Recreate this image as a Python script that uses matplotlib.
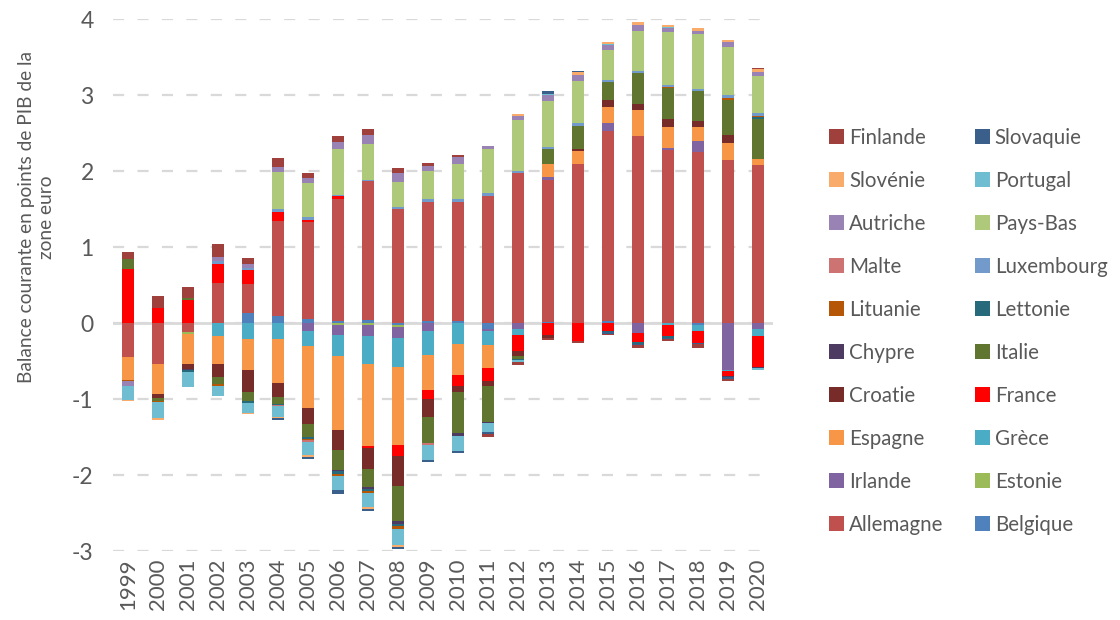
import numpy as np
import matplotlib
matplotlib.use("Agg")
import matplotlib.pyplot as plt

# --- data: contributions by country, 1999-2020 ---
years = [str(y) for y in range(1999, 2021)]

belgique   = [0, 0, 0, 0, 0.13, 0.10, 0.06, 0.03, 0.04, -0.02, 0.03, 0.03, -0.07, 0, 0.02, 0, 0.03, 0, 0, -0.02, 0, 0]
allemagne  = [-0.45, -0.54, -0.12, 0.53, 0.38, 1.25, 1.27, 1.60, 1.83, 1.50, 1.57, 1.57, 1.68, 1.98, 1.86, 2.10, 2.50, 2.46, 2.28, 2.25, 2.15, 2.08]
estonie    = [0, 0, -0.02, 0, 0, 0, 0, -0.03, -0.03, -0.03, 0, 0, 0, 0, 0, 0, 0, 0, 0, 0, 0, 0]
irlande    = [0, 0, 0, 0, 0, 0, -0.10, -0.12, -0.14, -0.15, -0.10, 0, -0.03, -0.08, 0.04, 0, 0.11, -0.13, 0.02, 0.15, -0.61, -0.08]
grece      = [0, 0, 0, -0.17, -0.21, -0.21, -0.20, -0.28, -0.37, -0.37, -0.32, -0.27, -0.19, -0.08, 0, 0, 0, 0, -0.02, -0.08, -0.02, -0.09]
espagne    = [-0.30, -0.39, -0.40, -0.37, -0.41, -0.58, -0.81, -0.98, -1.08, -1.03, -0.46, -0.41, -0.30, 0, 0.18, 0.17, 0.20, 0.34, 0.28, 0.18, 0.22, 0.08]
france     = [0.71, 0.20, 0.30, 0.25, 0.19, 0.11, 0.03, 0.04, -0.02, -0.15, -0.12, -0.14, -0.17, -0.21, -0.15, -0.23, -0.10, -0.12, -0.15, -0.16, -0.06, -0.40]
croatie    = [0, -0.05, -0.06, -0.17, -0.28, -0.18, -0.22, -0.26, -0.28, -0.39, -0.24, -0.09, -0.07, -0.06, -0.04, 0.02, 0.10, 0.08, 0.11, 0.08, 0.10, 0]
italie     = [0.14, -0.04, 0.03, -0.09, -0.13, -0.09, -0.17, -0.26, -0.24, -0.46, -0.33, -0.54, -0.47, -0.04, 0.19, 0.31, 0.24, 0.41, 0.40, 0.39, 0.47, 0.53]
chypre     = [0, 0, -0.02, 0, 0, 0, 0, -0.02, -0.02, -0.04, 0, -0.03, -0.01, 0, 0, 0, 0, 0, 0, 0, -0.02, -0.02]
lettonie   = [0, 0, -0.02, 0, -0.02, -0.02, -0.03, -0.03, -0.03, -0.03, 0, 0, 0, -0.02, 0, 0, -0.02, -0.02, -0.02, 0, 0, 0.02]
lituanie   = [-0.01, -0.02, 0, -0.02, 0, 0, -0.01, -0.03, -0.03, -0.04, -0.01, 0, 0, 0, 0, 0, 0, 0, 0.02, 0, 0.02, 0.02]
luxembourg = [0, 0, 0, 0.04, 0.03, 0.04, 0.04, 0.02, 0.02, 0.03, 0.03, 0.03, 0.03, 0.02, 0.03, 0.03, 0.02, 0.03, 0.02, 0.03, 0.04, 0.03]
malte      = [0, 0, 0, 0, 0, -0.01, -0.02, 0, 0, 0, -0.02, 0, 0, 0, 0, 0, 0, 0, 0, 0, 0, 0]
pays_bas   = [0, 0, 0, 0, 0, 0.49, 0.45, 0.60, 0.47, 0.33, 0.37, 0.47, 0.58, 0.68, 0.61, 0.56, 0.40, 0.52, 0.70, 0.72, 0.63, 0.49]
autriche   = [-0.07, 0, 0, 0.05, 0.05, 0.07, 0.06, 0.09, 0.11, 0.12, 0.07, 0.09, 0.04, 0.05, 0.07, 0.08, 0.06, 0.09, 0.05, 0.04, 0.07, 0.06]
portugal   = [-0.18, -0.21, -0.20, -0.14, -0.13, -0.14, -0.18, -0.19, -0.18, -0.21, -0.20, -0.20, -0.12, -0.02, 0.02, 0, 0.02, 0, 0.02, 0, 0, -0.03]
slovenie   = [-0.02, -0.02, 0, 0, -0.02, -0.02, -0.02, 0, -0.02, -0.02, 0, 0, 0, 0.02, 0, 0.03, 0.02, 0.03, 0.02, 0.04, 0.02, 0.03]
slovaquie  = [0, 0, 0, 0, 0, -0.03, -0.03, -0.05, -0.03, -0.03, -0.03, -0.03, -0.03, 0, 0.03, 0.02, -0.02, -0.02, -0.02, -0.02, -0.03, 0]
finlande   = [0.09, 0.16, 0.15, 0.17, 0.08, 0.11, 0.07, 0.08, 0.08, 0.06, 0.04, 0.02, -0.04, -0.04, -0.03, -0.03, -0.02, -0.04, -0.02, -0.04, -0.02, 0.02]

series = [
    ("Belgique", belgique, "#4F81BD"),
    ("Allemagne", allemagne, "#C0504D"),
    ("Estonie", estonie, "#9BBB59"),
    ("Irlande", irlande, "#8064A2"),
    ("Grèce", grece, "#4BACC6"),
    ("Espagne", espagne, "#F79646"),
    ("France", france, "#FF0000"),
    ("Croatie", croatie, "#772C2A"),
    ("Italie", italie, "#5F7530"),
    ("Chypre", chypre, "#4D3B62"),
    ("Lettonie", lettonie, "#276A7C"),
    ("Lituanie", lituanie, "#B65708"),
    ("Luxembourg", luxembourg, "#729ACA"),
    ("Malte", malte, "#CD7371"),
    ("Pays-Bas", pays_bas, "#AFC97A"),
    ("Autriche", autriche, "#9983B5"),
    ("Portugal", portugal, "#6FBDD1"),
    ("Slovénie", slovenie, "#F9AB6B"),
    ("Slovaquie", slovaquie, "#3A5F8B"),
    ("Finlande", finlande, "#A0403D"),
]

# --- plotting ---
plt.rcParams["font.family"] = ["Lato", "DejaVu Sans"]
plt.rcParams["axes.unicode_minus"] = False
grey = "#595959"

fig = plt.figure(figsize=(11.2, 6.2), dpi=100)
ax = fig.add_axes([0.101, 0.111, 0.589, 0.858])

x = np.arange(len(years))
pos_base = np.zeros(len(years))
neg_base = np.zeros(len(years))
handles = {}
for name, vals, color in series:
    v = np.array(vals, dtype=float)
    pos = np.where(v > 0, v, 0)
    neg = np.where(v < 0, v, 0)
    b = ax.bar(x, pos, 0.4, bottom=pos_base, color=color, label=name, zorder=3)
    ax.bar(x, neg, 0.4, bottom=neg_base, color=color, zorder=3)
    pos_base += pos
    neg_base += neg
    handles[name] = b

ax.set_xlim(-0.5, len(years) - 0.5)
ax.set_ylim(-3, 4)
ax.set_yticks(range(-3, 5))
ax.yaxis.grid(True, color="#D9D9D9", linestyle=(0, (5, 6)), linewidth=1.6, zorder=0)
ax.axhline(0, color="#D9D9D9", linewidth=2, zorder=2)
for s in ax.spines.values():
    s.set_visible(False)
ax.tick_params(length=0, colors=grey)
ax.tick_params(axis="y", pad=14, labelsize=16.5)
ax.tick_params(axis="x", pad=5, labelsize=16)
ax.set_xticks(x)
ax.set_xticklabels(years, rotation=90)
ax.set_ylabel("Balance courante en points de PIB de la\nzone euro", fontsize=13.8, color=grey)
ax.yaxis.set_label_coords(-0.088, 0.628)

# legend in 2 columns, read row by row (reverse of stacking order)
rev = [s[0] for s in series][::-1]
order = rev[0::2] + rev[1::2]
ax.legend([handles[n] for n in order], order, ncol=2, frameon=False,
          loc="upper left", bbox_to_anchor=(0.724, 0.824), bbox_transform=fig.transFigure,
          fontsize=14.8, labelcolor=grey, handlelength=0.7, handleheight=0.7,
          handletextpad=0.25, columnspacing=1.55, labelspacing=1.12)

plt.savefig("out.png", dpi=100)
